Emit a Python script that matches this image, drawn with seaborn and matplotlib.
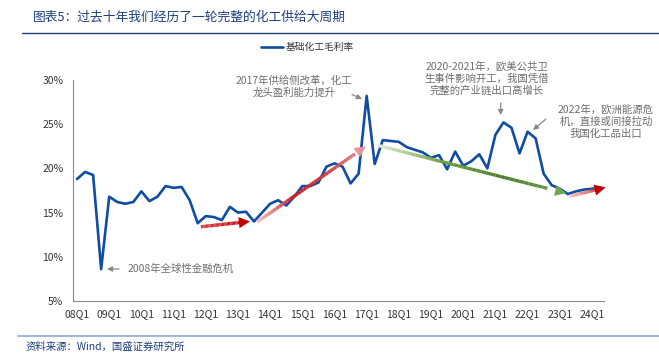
import numpy as np
import pandas as pd
import matplotlib
matplotlib.use("Agg")
import matplotlib.pyplot as plt
import seaborn as sns
from matplotlib.collections import LineCollection
from matplotlib.colors import to_rgb

# quarterly gross margin of basic chemicals, 08Q1 .. 24Q2 (%)
years = [f"{y:02d}" for y in range(8, 25)]
quarters = [f"{y}Q{q}" for y in years for q in range(1, 5)][:66]
margin = [
    18.8, 19.6, 19.25, 8.6, 16.8, 16.2, 16.0, 16.2,
    17.4, 16.3, 16.8, 18.0, 17.8, 17.9, 16.4, 13.8,
    14.6, 14.5, 14.15, 15.65, 15.0, 15.1, 14.0, 15.0,
    16.0, 16.4, 15.8, 16.8, 18.0, 18.0, 18.4, 20.2,
    20.57, 20.2, 18.3, 19.4, 28.2, 20.5, 23.2, 23.1,
    23.0, 22.4, 22.1, 21.8, 21.2, 21.5, 19.9, 21.9,
    20.3, 20.8, 21.6, 20.0, 23.8, 25.2, 24.6, 21.7,
    24.15, 23.4, 19.4, 18.1, 17.7, 17.1, 17.4, 17.6,
    17.7, 17.8,
]
tick_labels = [f"{y}Q1" for y in years]
series_name = "基础化工毛利率"

title = "图表5：过去十年我们经历了一轮完整的化工供给大周期"
source = "资料来源：Wind，国盛证券研究所"

df = pd.DataFrame({"i": np.arange(len(margin)), "margin": margin})

sns.set_style("white")
plt.rcParams["font.family"] = ["Noto Sans CJK SC", "DejaVu Sans"]

BLUE = "#0F4CA3"
GREY = "#6E6E6E"
TITLE_BLUE = "#1F3F80"

fig = plt.figure(figsize=(6.59, 3.59), dpi=100)
ax = fig.add_axes([73 / 659, 1 - 301 / 359, 531 / 659, 221 / 359])

sns.lineplot(data=df, x="i", y="margin", ax=ax, color=BLUE, lw=1.9,
             label=series_name)

ax.set_xlim(-0.5, len(margin) - 0.5)
ax.set_ylim(5, 30)
ax.set_yticks(range(5, 31, 5))
ax.set_yticklabels([f"{v}%" for v in range(5, 31, 5)], fontsize=7.5,
                   color="#333333")
ax.set_xticks(np.arange(-0.5, len(margin), 4))
ax.set_xticklabels([])
ax.set_xticks(np.arange(0, len(margin), 4), minor=True)
ax.set_xticklabels(tick_labels, minor=True, fontsize=7.5, color="#333333")
ax.tick_params(axis="x", which="major", direction="out", length=4,
               color="#888888", width=0.8)
ax.tick_params(axis="x", which="minor", length=0, pad=6)
ax.tick_params(axis="y", direction="out", length=4, color="#888888",
               width=0.8, pad=3)
ax.set_xlabel("")
ax.set_ylabel("")
for s in ["top", "right"]:
    ax.spines[s].set_visible(False)
for s in ["left", "bottom"]:
    ax.spines[s].set_color("#888888")
    ax.spines[s].set_linewidth(0.8)

ax.legend(loc="center", bbox_to_anchor=(0.467, 0.869),
          bbox_transform=fig.transFigure, frameon=False, fontsize=7,
          handlelength=2.2, handletextpad=0.3, labelcolor="#333333")


def gradient_arrow(x0, y0, x1, y1, colors, head):
    n = 40
    t = np.linspace(0, 1, n + 1)
    xs = x0 + (x1 - x0) * t
    ys = y0 + (y1 - y0) * t
    segs = [[(xs[k], ys[k]), (xs[k + 1], ys[k + 1])] for k in range(n)]
    stops = np.linspace(0, 1, len(colors))
    rgb = np.array([to_rgb(c) for c in colors])
    mid = (t[:-1] + t[1:]) / 2
    cols = np.column_stack([np.interp(mid, stops, rgb[:, j]) for j in range(3)])
    ax.add_collection(LineCollection(segs[:-4], colors=cols[:-4], lw=2.4,
                                     capstyle="butt", zorder=3))
    ax.annotate("", xy=(x1, y1), xytext=(xs[-6], ys[-6]),
                arrowprops=dict(arrowstyle="-|>,head_length=0.8,head_width=0.4",
                                color=head, lw=0, shrinkA=0, shrinkB=0),
                annotation_clip=False, zorder=4)


gradient_arrow(15.4, 13.4, 21.5, 14.0, ["#D8323A", "#C00000"], "#C00000")
gradient_arrow(22.4, 13.95, 35.9, 22.5,
               ["#F6C2C4", "#C81E24", "#D0404A", "#E8939A"], "#E8939A")
gradient_arrow(37.4, 22.6, 60.8, 17.2,
               ["#E2EFD9", "#6FA146", "#4E7F2E", "#6FA050"], "#70A552")
gradient_arrow(61.2, 16.85, 65.7, 17.85, ["#F6C2C4", "#C00000"], "#C00000")

ann = dict(fontsize=7.5, color=GREY, ha="center", va="center",
           linespacing=1.25)
small_arrow = dict(arrowstyle="-|>,head_length=0.3,head_width=0.15",
                   color="#888888", lw=0.9, shrinkA=0, shrinkB=0)

fig.text(128 / 659, 1 - 269 / 359, "2008年全球性金融危机", fontsize=7.5,
         color=GREY, ha="left", va="center")
fig.text(294 / 659, 1 - 87 / 359, "2017年供给侧改革，化工\n龙头盈利能力提升",
         **ann)
fig.text(487 / 659, 1 - 78.5 / 359,
         "2020-2021年，欧美公共卫\n生事件影响开工，我国凭借\n完整的产业链出口高增长",
         **ann)
fig.text(606 / 659, 1 - 121.5 / 359,
         "2022年，欧洲能源危\n机，直接或间接拉动\n我国化工品出口", **ann)

for (a, b), (c, d) in [((119, 269), (107, 269)), ((352, 94.5), (362, 99)),
                       ((500.7, 103), (500.7, 115)), ((546, 119), (533, 130))]:
    ax.annotate("", xy=(c / 659, 1 - d / 359), xytext=(a / 659, 1 - b / 359),
                xycoords="figure fraction", textcoords="figure fraction",
                arrowprops=small_arrow)

fig.text(33 / 659, 1 - 17 / 359, title, fontsize=9.2, color=TITLE_BLUE,
         ha="left", va="center")
fig.add_artist(plt.Line2D([22 / 659, 1], [1 - 33 / 359] * 2,
                          color=TITLE_BLUE, lw=1.0))
fig.add_artist(plt.Line2D([18 / 659, 1], [1 - 336 / 359] * 2,
                          color="#8EA9D8", lw=1.2))
fig.text(26 / 659, 1 - 347 / 359, source, fontsize=7.5, color=TITLE_BLUE,
         ha="left", va="center")

fig.savefig("out.png", dpi=100)
